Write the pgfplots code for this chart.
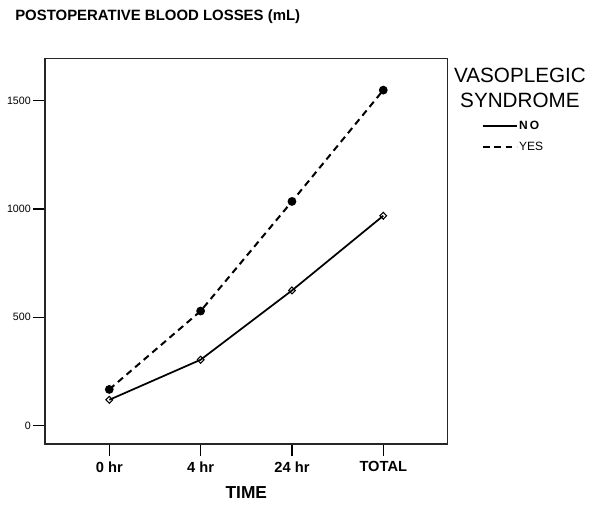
\documentclass[border=0pt]{standalone}
\usepackage{fontspec}
\setmainfont{Liberation Sans}
\usepackage{pgfplots}
\pgfplotsset{compat=1.18}
\begin{document}
\begin{tikzpicture}
\useasboundingbox (0,0) rectangle (450pt,379.5pt);
\node[anchor=west,font=\fontsize{11.2}{13}\selectfont\bfseries,inner sep=0pt] at (11.25pt,366.75pt) {POSTOPERATIVE BLOOD LOSSES (mL)};
\begin{axis}[
  at={(33.75pt,46.5pt)}, anchor=south west,
  scale only axis, width=302pt, height=289.1pt,
  xmin=-0.704, xmax=3.705, ymin=-85, ymax=1695,
  xtick={0,1,2,3}, xticklabels={0 hr,4 hr,24 hr,TOTAL},
  ytick={0,500,1000,1500},
  xtick pos=bottom, ytick pos=left, tick align=outside,
  major tick length=9pt,
  every tick/.style={black, line width=1pt},
  axis line style={black!85, line width=1pt},
  /pgf/number format/assume math mode=true,
  /pgf/number format/1000 sep={},
  yticklabel style={font=\fontsize{8}{9}\selectfont, inner sep=1.5pt},
  xticklabel style={font=\fontsize{11}{13}\selectfont\bfseries, inner sep=4pt},
  xlabel={TIME},
  xlabel style={font=\fontsize{13}{15}\selectfont\bfseries, at={(axis description cs:0.5,-0.127)}, anchor=center},
  legend style={draw=none, fill=none, inner sep=0pt, outer sep=0pt,
    at={(axis description cs:1.085,0.7977)}, anchor=west,
    nodes={inner sep=1pt}, row sep=6pt,
    font=\fontsize{9}{10}\selectfont},
  legend cell align=left,
  legend image code/.code={\draw[#1] (0pt,0pt) -- (25.5pt,0pt);},
  clip=false,
]
\addplot[black, line width=1.3pt, mark=diamond, mark size=2.6pt, mark options={solid, fill=white, line width=0.8pt, xscale=1.3}]
  coordinates {(0,119) (1,304) (2,624) (3,969)};
\addlegendentry{\textbf{N\,O}}
\addplot[black, line width=1.5pt, dash pattern=on 5pt off 3.5pt, mark=*, mark size=2.5pt, mark options={solid}]
  coordinates {(0,167) (1,529) (2,1035) (3,1549)};
\addlegendentry{YES}
\node[font=\fontsize{15.5}{17}\selectfont, inner sep=0pt] at (axis description cs:1.1795,0.957) {VASOPLEGIC};
\node[font=\fontsize{15.5}{17}\selectfont, inner sep=0pt] at (axis description cs:1.1795,0.892) {SYNDROME};
\end{axis}
\end{tikzpicture}
\end{document}
